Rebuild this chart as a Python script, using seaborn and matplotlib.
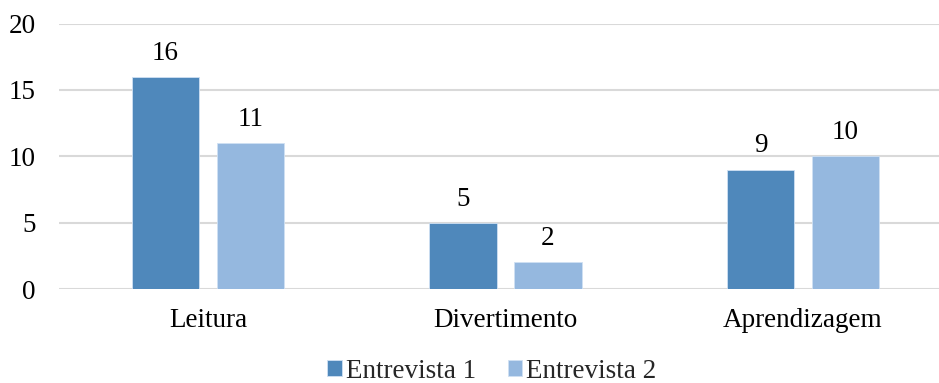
import matplotlib
matplotlib.use("Agg")
import matplotlib.pyplot as plt
import seaborn as sns
import pandas as pd

categories = ["Leitura", "Divertimento", "Aprendizagem"]
entrevista_1 = [16, 5, 9]
entrevista_2 = [11, 2, 10]
series_names = ["Entrevista 1", "Entrevista 2"]
yticks = [0, 5, 10, 15, 20]

df = pd.DataFrame({
    "categoria": categories * 2,
    "valor": entrevista_1 + entrevista_2,
    "serie": [series_names[0]] * 3 + [series_names[1]] * 3,
})

sns.set_theme(style="white")
plt.rcParams["font.family"] = ["Liberation Serif", "DejaVu Serif"]

FS = 19.5
fig = plt.figure(figsize=(9.39, 3.83), dpi=100)
ax = fig.add_axes([0.0631, 0.2454, 0.9505, 0.693])

colors = ["#4F88BB", "#95B8DF"]
sns.barplot(data=df, x="categoria", y="valor", hue="serie", order=categories,
            hue_order=series_names, palette=colors, width=0.572, gap=0.21,
            edgecolor="#cfe0f3", linewidth=0.6, saturation=1, ax=ax, legend=True)

for cont in ax.containers:
    ax.bar_label(cont, fmt="%d", padding=8, fontsize=FS, color="#000000")

ax.set_ylim(0, 20)
ax.set_xlim(-0.5, 2.5)
ax.set_yticks(yticks)
ax.set_yticklabels([str(t) for t in yticks])
ax.yaxis.grid(True, color="#d9d9d9", linewidth=1.5)
ax.set_axisbelow(True)
for s in ax.spines.values():
    s.set_visible(False)
ax.tick_params(axis="y", length=0, pad=17, labelsize=FS, labelcolor="#000000")
ax.tick_params(axis="x", length=0, pad=14, labelsize=FS, labelcolor="#000000")
ax.set_xlabel("")
ax.set_ylabel("")

handles, labels = ax.get_legend_handles_labels()
ax.get_legend().remove()
fig.legend(handles, labels, loc="center", bbox_to_anchor=(492 / 939, 1 - 371 / 383),
           ncol=2, frameon=False, fontsize=FS, handlelength=0.55, handleheight=0.55,
           handletextpad=0.15, columnspacing=1.15, borderaxespad=0, borderpad=0.2)

fig.savefig("out.png", dpi=100)
